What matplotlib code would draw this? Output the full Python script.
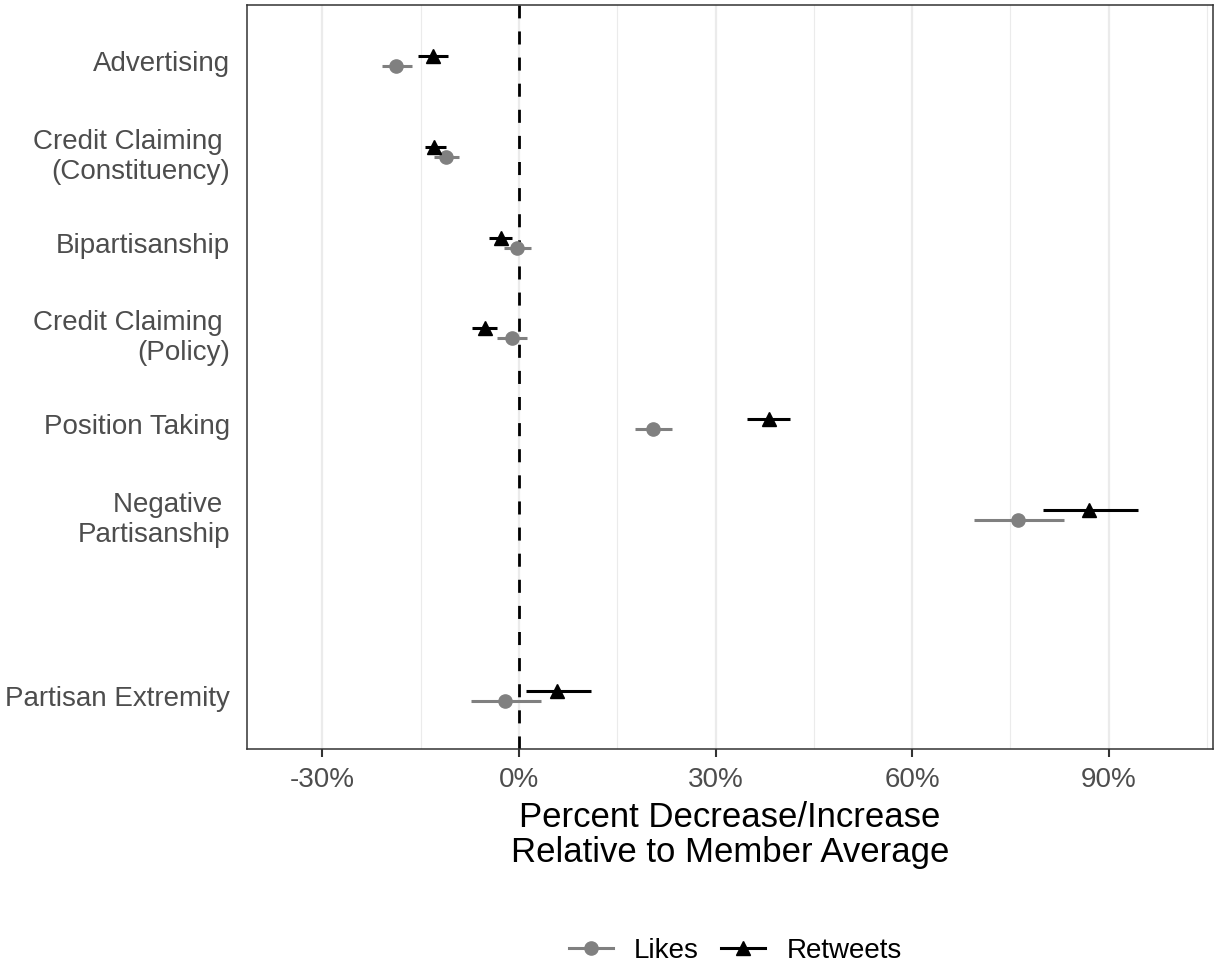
import matplotlib
matplotlib.use("Agg")
import matplotlib.pyplot as plt
from matplotlib.lines import Line2D
from matplotlib.ticker import FuncFormatter, MultipleLocator
import numpy as np

plt.rcParams['font.family'] = ['Liberation Sans', 'DejaVu Sans']

# categories, top to bottom; the empty slot leaves a gap before the last row
categories = ['Advertising', 'Credit Claiming \n(Constituency)', 'Bipartisanship',
              'Credit Claiming \n(Policy)', 'Position Taking', 'Negative \nPartisanship',
              '', 'Partisan Extremity']
rows = [0, 1, 2, 3, 4, 5, 7]

# percent change relative to member average, with 95% intervals
likes_est = [-18.7, -11.1, -0.25, -1.1, 20.5, 76.2, -2.1]
likes_lo = [-20.85, -12.9, -2.3, -3.3, 17.7, 69.5, -7.3]
likes_hi = [-16.3, -9.2, 1.8, 1.2, 23.4, 83.1, 3.3]

rt_est = [-13.1, -12.9, -2.8, -5.2, 38.1, 87.0, 5.8]
rt_lo = [-15.4, -14.4, -4.5, -7.1, 34.8, 79.9, 1.0]
rt_hi = [-10.8, -11.2, -1.0, -3.3, 41.4, 94.5, 11.0]

like_col = '#808080'
rt_col = '#000000'
dodge = 0.055

fig = plt.figure(figsize=(12.15, 9.65), dpi=100)
ax = fig.add_axes([247 / 1215, 1 - 749 / 965, (1213 - 247) / 1215, (749 - 5) / 965])

# vertical grid only
for v in np.arange(-45, 106, 15):
    major = (v % 30 == 0)
    ax.axvline(v, color='#EBEBEB', lw=1.6 if major else 0.8, zorder=0)

ax.axvline(0, color='black', lw=2.0, linestyle=(0, (4.7, 4.7)), zorder=1)

y = np.array(rows, dtype=float)
ax.hlines(y + dodge, likes_lo, likes_hi, color=like_col, lw=2.2, zorder=2)
ax.plot(likes_est, y + dodge, 'o', color=like_col, ms=9.5, zorder=3)
ax.hlines(y - dodge, rt_lo, rt_hi, color=rt_col, lw=2.2, zorder=2)
ax.plot(rt_est, y - dodge, '^', color=rt_col, ms=10.5, zorder=3)

ax.set_xlim(-41.5, 105.9)
ax.set_ylim(7.58, -0.62)
ax.xaxis.set_major_locator(MultipleLocator(30))
ax.xaxis.set_major_formatter(FuncFormatter(lambda v, p: '%d%%' % v))
ax.set_yticks(range(len(categories)))
ax.set_yticklabels(categories)

ax.tick_params(axis='x', length=6, width=1.5, color='#333333', labelcolor='#4D4D4D',
               labelsize=20, pad=7)
ax.tick_params(axis='y', length=0, labelcolor='#4D4D4D', labelsize=20, pad=12)
for lab in ax.get_yticklabels():
    lab.set_multialignment('right')
    lab.set_linespacing(1.18)

for s in ax.spines.values():
    s.set_color('#333333')
    s.set_linewidth(1.1)

ax.set_xlabel('Percent Decrease/Increase\nRelative to Member Average', fontsize=25,
              color='black', labelpad=6, linespacing=1.07)

handles = [
    Line2D([], [], color=like_col, lw=2.2, marker='o', ms=9.5),
    Line2D([], [], color=rt_col, lw=2.2, marker='^', ms=10.5),
]
fig.legend(handles, ['Likes', 'Retweets'], loc='center', bbox_to_anchor=(0.605, 0.015),
           ncol=2, frameon=False, fontsize=20, handlelength=1.6, columnspacing=0.8,
           handletextpad=0.75)

fig.savefig('out.png', dpi=100)
